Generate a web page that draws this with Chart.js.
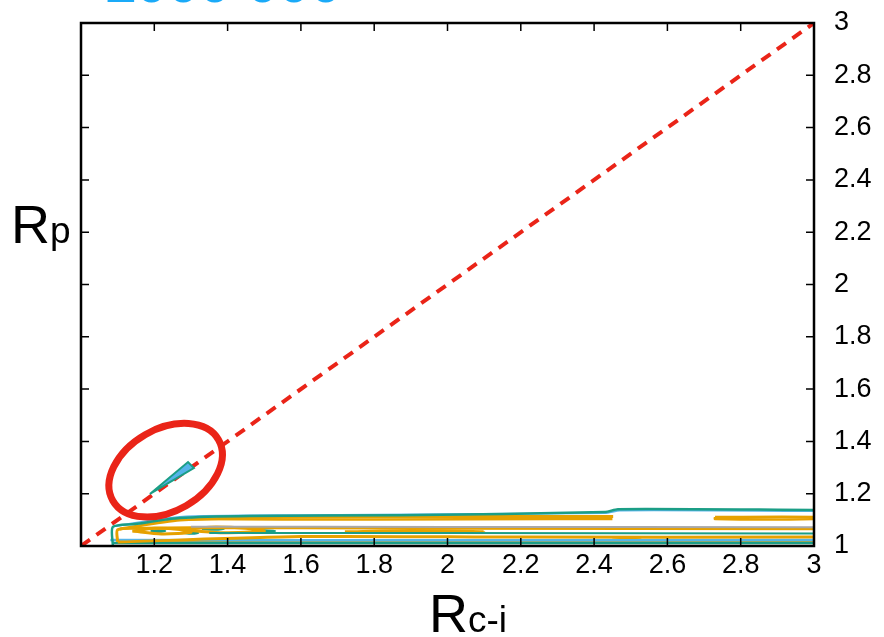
<!DOCTYPE html>
<html>
<head>
<meta charset="utf-8">
<script src="https://cdn.jsdelivr.net/npm/chart.js@4.4.1/dist/chart.umd.min.js"></script>
<style>
  html, body { margin: 0; padding: 0; background: #fff; overflow: hidden; }
  .wrap { position: relative; width: 884px; height: 637px; }
  .lbl { position: absolute; font-family: "Liberation Sans", Arial, sans-serif; line-height: 1; white-space: nowrap; color: #000; }
  .big { font-size: 54px; }
  .sub { font-size: 37px; }
  .top { font-size: 57px; font-weight: bold; color: #1aaaf8; }
</style>
</head>
<body>
<div class="wrap">
  <canvas id="chart" width="884" height="637"></canvas>
  <div class="lbl top" style="left:104px; top:-46px;">1000 000</div>
  <div class="lbl big" style="left:11px; top:197px;">R<span class="sub">p</span></div>
  <div class="lbl big" style="left:429px; top:586px;">R<span class="sub">c-i</span></div>
</div>
<script>
// axis ranges / ticks
const xRange = [1, 3];
const yRange = [1, 3];
const tickStep = 0.2;

// diagonal guide
const diagonal = [[1, 1], [3, 3]];

// highlighted circle (data centre)
const circleCentre = [1.231, 1.29];

// small spike inside the circle
const spike = [[1.188, 1.199], [1.292, 1.321], [1.308, 1.298], [1.188, 1.199]];

// contour lines near Rp = 1
const tealOuter = [[1.087, 1.0], [1.087, 1.073], [1.147, 1.084], [1.27, 1.107], [1.461, 1.115], [1.87, 1.118], [2.43, 1.13], [2.465, 1.141], [3.0, 1.138]];
const blueOuter = [[1.093, 1.076], [1.27, 1.111], [1.6, 1.118], [2.43, 1.126], [2.47, 1.136], [3.0, 1.134]];
const orangeUpper = [[1.106, 1.065], [1.27, 1.099], [1.598, 1.111], [2.143, 1.113], [2.452, 1.113]];
const orangeUpperB = [[1.3, 1.103], [1.8, 1.101], [2.3, 1.103], [2.45, 1.103]];
const orangeRight = [[2.73, 1.111], [3.0, 1.111], [3.0, 1.103], [2.73, 1.103], [2.73, 1.111]];
const orangeInner = [[1.1, 1.015], [1.1, 1.062], [1.16, 1.068], [1.3, 1.07], [1.6, 1.07], [2.0, 1.068], [3.0, 1.066]];
const grayBand = [[1.3, 1.074], [2.0, 1.073], [3.0, 1.072]];
const tealMid = [[1.35, 1.05], [2.0, 1.05], [3.0, 1.048]];
const orangeLow = [[1.1, 1.015], [1.6, 1.036], [2.2, 1.034], [3.0, 1.034]];
const blueLow = [[1.08, 1.023], [2.0, 1.022], [3.0, 1.023]];
const tealLow = [[1.087, 1.011], [2.0, 1.011], [3.0, 1.011]];
const orangeBottom = [[1.1, 1.015], [2.0, 1.015], [3.0, 1.017]];
const blobA = [[1.14, 1.057], [1.2, 1.068], [1.27, 1.063], [1.3, 1.052], [1.22, 1.046], [1.14, 1.057]];
const blobB = [[1.27, 1.063], [1.35, 1.072], [1.45, 1.068], [1.5, 1.057], [1.38, 1.051], [1.27, 1.063]];
const blobC = [[1.72, 1.055], [1.9, 1.06], [2.1, 1.056], [1.9, 1.052], [1.72, 1.055]];
const blobD = [[2.45, 1.023], [2.49, 1.027], [2.53, 1.023], [2.49, 1.02], [2.45, 1.023]];
const tealBlobs = [[[1.19, 1.057], [1.21, 1.06], [1.23, 1.057], [1.21, 1.054], [1.19, 1.057]],
                   [[1.28, 1.05], [1.3, 1.053], [1.32, 1.05], [1.3, 1.047], [1.28, 1.05]],
                   [[1.33, 1.065], [1.36, 1.068], [1.39, 1.065], [1.36, 1.062], [1.33, 1.065]],
                   [[1.47, 1.057], [1.5, 1.06], [1.53, 1.057], [1.5, 1.054], [1.47, 1.057]]];

const teal = "#1b9e86";
const blue = "#56b4e9";
const orange = "#e6a100";
const gray = "#a8a8a8";
const red = "#ea2418";

const pts = arr => arr.map(([x, y]) => ({ x, y }));

const line = (data, color, width = 2.5) => ({
  data: pts(data),
  borderColor: color,
  borderWidth: width,
  pointRadius: 0,
  showLine: true,
  fill: false,
  tension: 0.25
});

const datasets = [
  line(grayBand, gray, 2),
  line(tealOuter, teal, 2.5),
  line(blueOuter, blue, 2),
  line(orangeUpper, orange, 3),
  line(orangeUpperB, orange, 2.5),
  line(orangeRight, orange, 2.5),
  line(orangeInner, orange, 3),
  line(tealMid, teal, 2),
  line(orangeLow, orange, 3),
  line(blueLow, blue, 2.5),
  line(tealLow, teal, 2.5),
  line(orangeBottom, orange, 2),
  line(blobA, orange, 3),
  line(blobB, orange, 3),
  line(blobC, orange, 2.5),
  line(blobD, orange, 3),
  ...tealBlobs.map(b => line(b, teal, 2)),
  Object.assign(line(spike, teal, 2), { fill: "shape", backgroundColor: blue, tension: 0 }),
  Object.assign(line(diagonal, red, 4), { borderDash: [11, 8], tension: 0 })
];

const frame = {
  id: "frame",
  afterDatasetsDraw(chart) {
    const { ctx, chartArea: a, scales } = chart;
    ctx.save();
    // red circle
    const cx = scales.x.getPixelForValue(circleCentre[0]);
    const cy = scales.y.getPixelForValue(circleCentre[1]);
    ctx.strokeStyle = red;
    ctx.lineWidth = 7;
    ctx.beginPath();
    ctx.ellipse(cx, cy, 61, 41, -Math.PI / 6, 0, Math.PI * 2);
    ctx.stroke();

    // frame and inward ticks
    ctx.strokeStyle = "#000";
    ctx.lineWidth = 2.5;
    ctx.strokeRect(a.left, a.top, a.right - a.left, a.bottom - a.top);
    ctx.lineWidth = 1.5;
    const len = 8;
    ctx.beginPath();
    scales.x.ticks.forEach(t => {
      if (t.value <= xRange[0] || t.value >= xRange[1]) return;
      const px = scales.x.getPixelForValue(t.value);
      ctx.moveTo(px, a.bottom); ctx.lineTo(px, a.bottom - len);
      ctx.moveTo(px, a.top); ctx.lineTo(px, a.top + len);
    });
    scales.y.ticks.forEach(t => {
      if (t.value <= yRange[0] || t.value >= yRange[1]) return;
      const py = scales.y.getPixelForValue(t.value);
      ctx.moveTo(a.left, py); ctx.lineTo(a.left + len, py);
      ctx.moveTo(a.right, py); ctx.lineTo(a.right - len, py);
    });
    ctx.stroke();
    ctx.restore();
  }
};

const fmt = v => String(Math.round(v * 10) / 10);
const tickFont = { family: "'Liberation Sans', Arial, sans-serif", size: 27 };

new Chart(document.getElementById("chart"), {
  type: "scatter",
  data: { datasets },
  plugins: [frame],
  options: {
    responsive: false,
    animation: false,
    layout: { padding: { left: 81, top: 23, right: 0, bottom: 0 } },
    plugins: { legend: { display: false }, tooltip: { enabled: false } },
    scales: {
      x: {
        type: "linear",
        min: xRange[0],
        max: xRange[1],
        grid: { display: false, drawTicks: false },
        border: { display: false },
        afterFit: s => { s.height = 91; s.paddingLeft = 0; s.paddingRight = 0; },
        ticks: {
          stepSize: tickStep,
          autoSkip: false,
          maxRotation: 0,
          padding: 3,
          color: "#000",
          font: tickFont,
          callback: v => (v === xRange[0] ? "" : fmt(v))
        }
      },
      y: {
        type: "linear",
        position: "right",
        min: yRange[0],
        max: yRange[1],
        grid: { display: false, drawTicks: false },
        border: { display: false },
        afterFit: s => { s.width = 70; s.paddingTop = 0; s.paddingBottom = 0; },
        ticks: {
          stepSize: tickStep,
          autoSkip: false,
          padding: 20,
          color: "#000",
          font: tickFont,
          callback: v => fmt(v)
        }
      }
    }
  }
});
</script>
</body>
</html>
